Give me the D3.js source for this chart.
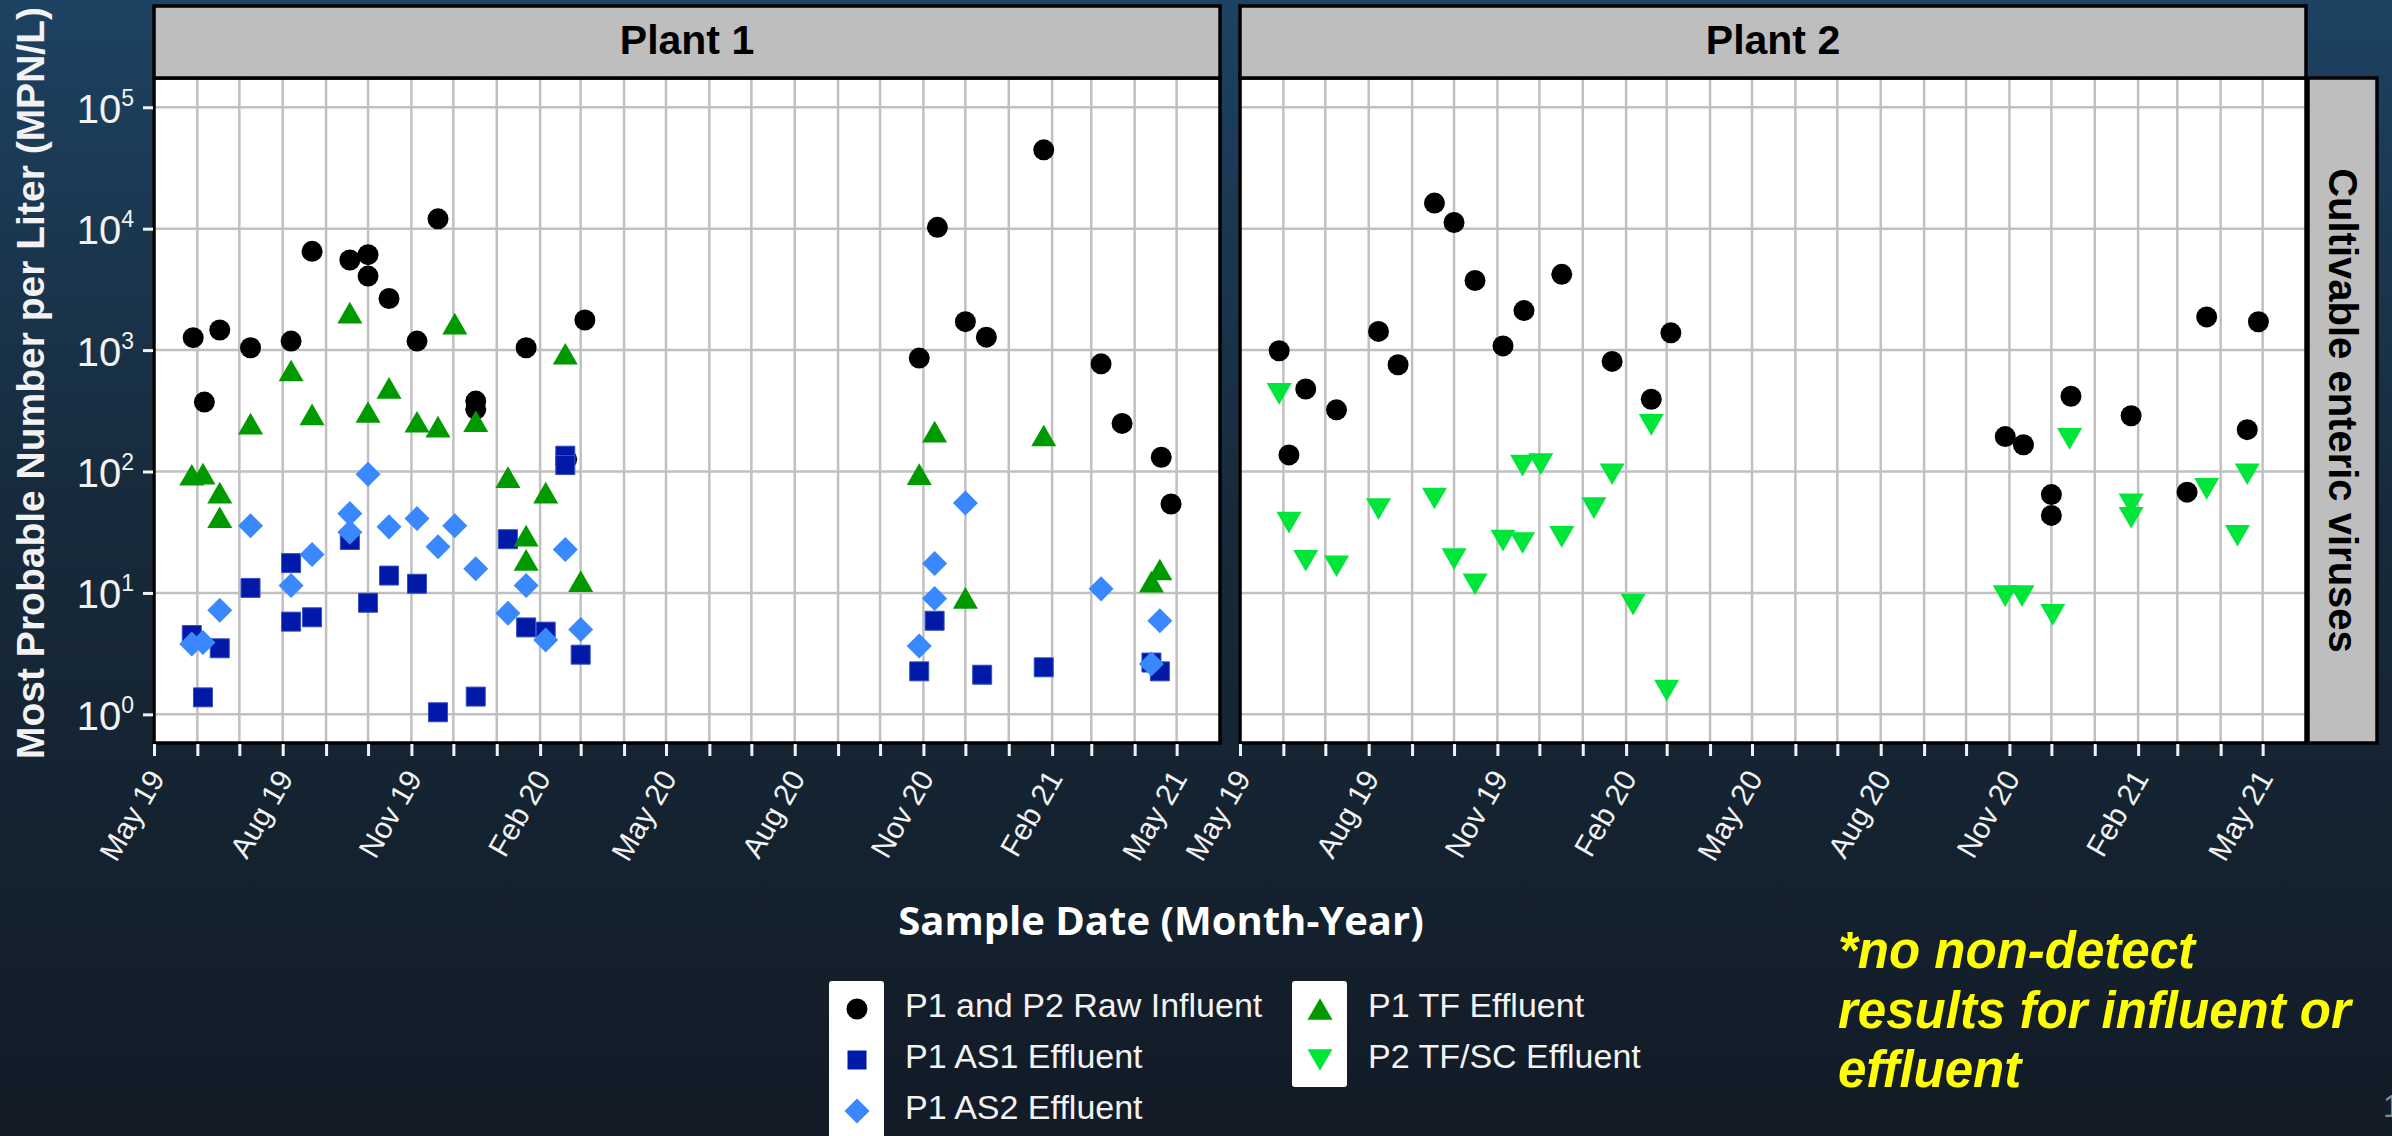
<!DOCTYPE html>
<html>
<head>
<meta charset="utf-8">
<script src="https://cdn.jsdelivr.net/npm/d3@7"></script>
<style>
  html, body { margin: 0; padding: 0; background: #131e2a; }
  svg { display: block; }
</style>
</head>
<body>
<div class="chart"></div>
<script>
// data: [sample date, MPN/L]
var p1Influent = [
  ["2019-05-29", 1265], ["2019-06-06", 373], ["2019-06-17", 1465], ["2019-07-09", 1045],
  ["2019-08-07", 1186], ["2019-08-22", 6510], ["2019-09-18", 5520], ["2019-10-01", 6110],
  ["2019-10-01", 4070], ["2019-10-16", 2660], ["2019-11-05", 1186], ["2019-11-20", 12060],
  ["2019-12-17", 380], ["2019-12-17", 325], ["2020-01-22", 1045], ["2020-02-20", 126],
  ["2020-03-04", 1770], ["2020-10-29", 860], ["2020-11-11", 10260], ["2020-12-01", 1714],
  ["2020-12-16", 1277], ["2021-01-26", 44600], ["2021-03-08", 771], ["2021-03-23", 249],
  ["2021-04-20", 131], ["2021-04-27", 54]
];
var p1AS1 = [
  ["2019-05-28", 4.5], ["2019-06-05", 1.38], ["2019-06-17", 3.5], ["2019-07-09", 11.0],
  ["2019-08-07", 17.6], ["2019-08-07", 5.8], ["2019-08-22", 6.3], ["2019-09-18", 27.3],
  ["2019-10-01", 8.3], ["2019-10-16", 13.9], ["2019-11-05", 11.9], ["2019-11-20", 1.04],
  ["2019-12-17", 1.40], ["2020-01-09", 27.7], ["2020-01-22", 5.2], ["2020-02-05", 4.8],
  ["2020-02-19", 135], ["2020-02-19", 113], ["2020-03-01", 3.1], ["2020-10-29", 2.26],
  ["2020-11-09", 5.9], ["2020-12-13", 2.12], ["2021-01-26", 2.44], ["2021-04-13", 2.67],
  ["2021-04-19", 2.26]
];
var p1AS2 = [
  ["2019-05-28", 3.8], ["2019-06-05", 3.9], ["2019-06-17", 7.2], ["2019-07-09", 35.8],
  ["2019-08-07", 11.5], ["2019-08-22", 20.7], ["2019-09-18", 45], ["2019-09-18", 31.6],
  ["2019-10-01", 95], ["2019-10-16", 35], ["2019-11-05", 41], ["2019-11-20", 24],
  ["2019-12-02", 35.8], ["2019-12-17", 15.8], ["2020-01-09", 6.8], ["2020-01-22", 11.5],
  ["2020-02-05", 4.1], ["2020-02-19", 22.8], ["2020-03-01", 5.0], ["2020-10-29", 3.65],
  ["2020-11-09", 17.5], ["2020-11-09", 9.0], ["2020-12-01", 55], ["2021-03-08", 10.8],
  ["2021-04-19", 5.9], ["2021-04-13", 2.6]
];
var p1TF = [
  ["2019-05-28", 94], ["2019-06-05", 96], ["2019-06-17", 67], ["2019-06-17", 42],
  ["2019-07-09", 248], ["2019-08-07", 679], ["2019-08-22", 295], ["2019-09-18", 2037],
  ["2019-10-01", 309], ["2019-10-16", 488], ["2019-11-05", 257], ["2019-11-20", 234],
  ["2019-12-02", 1652], ["2019-12-17", 260], ["2020-01-09", 90], ["2020-01-22", 29.6],
  ["2020-01-22", 18.7], ["2020-02-05", 67], ["2020-02-19", 933], ["2020-03-01", 12.5],
  ["2020-10-29", 95], ["2020-11-09", 213], ["2020-12-01", 9.1], ["2021-01-26", 198],
  ["2021-04-19", 15.6], ["2021-04-13", 12.4]
];
var p2Influent = [
  ["2019-05-29", 987], ["2019-06-05", 137], ["2019-06-17", 478], ["2019-07-09", 322],
  ["2019-08-08", 1426], ["2019-08-22", 757], ["2019-09-17", 16250], ["2019-10-01", 11250],
  ["2019-10-16", 3740], ["2019-11-05", 1082], ["2019-11-20", 2115], ["2019-12-17", 4210],
  ["2020-01-22", 807], ["2020-02-19", 394], ["2020-03-04", 1387], ["2020-10-29", 194],
  ["2020-11-11", 166], ["2020-12-01", 64.6], ["2020-12-01", 43.5], ["2020-12-15", 417],
  ["2021-01-27", 288], ["2021-03-08", 67.6], ["2021-03-22", 1877], ["2021-04-20", 221],
  ["2021-04-28", 1713]
];
var p2TFSC = [
  ["2019-05-29", 436], ["2019-06-05", 37.9], ["2019-06-17", 18.4], ["2019-07-09", 16.6],
  ["2019-08-08", 49], ["2019-09-17", 60], ["2019-10-01", 19], ["2019-10-16", 11.8],
  ["2019-11-05", 27], ["2019-11-19", 25.8], ["2019-11-19", 112], ["2019-12-02", 115],
  ["2019-12-17", 29], ["2020-01-09", 50], ["2020-01-22", 95], ["2020-02-06", 8.0],
  ["2020-02-19", 242], ["2020-03-01", 1.57], ["2020-10-29", 9.4], ["2020-11-10", 9.4],
  ["2020-12-02", 6.6], ["2020-12-14", 186], ["2021-01-27", 53.8], ["2021-01-27", 41.6],
  ["2021-03-22", 72], ["2021-04-13", 29.6], ["2021-04-20", 95]
];

var panelNames = ["Plant 1", "Plant 2"];
var seriesNames = ["P1 and P2 Raw Influent", "P1 AS1 Effluent", "P1 AS2 Effluent", "P1 TF Effluent", "P2 TF/SC Effluent"];
var yTicks = [1, 10, 100, 1000, 10000, 100000];
var labelMonths = [4, 7, 10, 1]; // May, Aug, Nov, Feb

var W = 2392, H = 1136;
var panelW = 1066, plotTop = 78, plotBottom = 743, stripTop = 6;
var panelX = [154, 1240];

var parseDate = d3.timeParse("%Y-%m-%d");
var fmt = d3.timeFormat("%b %y");

// marker styles per series
var style = {
  "P1 and P2 Raw Influent": { type: d3.symbolCircle, size: 346, fill: "#000000", rot: 0, dy: 0 },
  "P1 AS1 Effluent": { type: d3.symbolSquare, size: 361, fill: "#0019a8", rot: 0, dy: 0 },
  "P1 AS2 Effluent": { type: d3.symbolSquare, size: 313, fill: "#3a88fe", rot: 45, dy: 0 },
  "P1 TF Effluent": { type: d3.symbolTriangle, size: 271, fill: "#009a00", rot: 0, dy: 3.6 },
  "P2 TF/SC Effluent": { type: d3.symbolTriangle, size: 271, fill: "#00e53a", rot: 180, dy: -3.6 }
};

var panels = [
  { name: panelNames[0], x0: panelX[0], series: [
      { name: seriesNames[0], values: p1Influent },
      { name: seriesNames[1], values: p1AS1 },
      { name: seriesNames[2], values: p1AS2 },
      { name: seriesNames[3], values: p1TF }] },
  { name: panelNames[1], x0: panelX[1], series: [
      { name: seriesNames[0], values: p2Influent },
      { name: seriesNames[4], values: p2TFSC }] }
];

var x = d3.scaleTime()
          .domain([new Date(2019, 4, 1), new Date(2021, 5, 1)])
          .range([0, panelW]);

var y = d3.scaleLog()
          .domain([Math.pow(10, -0.236), Math.pow(10, 5.241)])
          .range([plotBottom, plotTop]);

var months = d3.timeMonth.range(x.domain()[0], x.domain()[1]);

var svg = d3.select(".chart").append("svg")
            .attr("width", W)
            .attr("height", H);

var grad = svg.append("defs").append("linearGradient")
              .attr("id", "bg").attr("x1", 0).attr("y1", 0).attr("x2", 0).attr("y2", 1);
grad.append("stop").attr("offset", "0%").attr("stop-color", "#1d4262");
grad.append("stop").attr("offset", "45%").attr("stop-color", "#172a3b");
grad.append("stop").attr("offset", "100%").attr("stop-color", "#121b26");

svg.append("rect").attr("width", W).attr("height", H).attr("fill", "url(#bg)");

function symbolPath(name) {
  var s = style[name];
  return d3.symbol().type(s.type).size(s.size)();
}

panels.forEach(function(p) {
  var g = svg.append("g").attr("transform", "translate(" + p.x0 + ",0)");

  g.append("rect")
   .attr("x", 0).attr("y", plotTop)
   .attr("width", panelW).attr("height", plotBottom - plotTop)
   .attr("fill", "#ffffff");

  // grid
  g.selectAll(".vgrid").data(months).enter().append("line")
   .attr("class", "vgrid")
   .attr("x1", function(d) { return x(d); }).attr("x2", function(d) { return x(d); })
   .attr("y1", plotTop).attr("y2", plotBottom)
   .attr("stroke", "#c0c0c0").attr("stroke-width", 2.5);

  g.selectAll(".hgrid").data(yTicks).enter().append("line")
   .attr("class", "hgrid")
   .attr("x1", 0).attr("x2", panelW)
   .attr("y1", function(d) { return y(d); }).attr("y2", function(d) { return y(d); })
   .attr("stroke", "#c0c0c0").attr("stroke-width", 2.5);

  // points
  p.series.forEach(function(s) {
    var st = style[s.name];
    g.selectAll(null).data(s.values).enter().append("path")
     .attr("d", symbolPath(s.name))
     .attr("fill", st.fill)
     .attr("stroke", s.name === seriesNames[1] ? "#3550c0" : "none")
     .attr("stroke-width", 1)
     .attr("transform", function(d) {
        return "translate(" + x(parseDate(d[0])) + "," + (y(d[1]) + st.dy) + ") rotate(" + st.rot + ")";
     });
  });

  // panel border
  g.append("rect")
   .attr("x", 0).attr("y", plotTop)
   .attr("width", panelW).attr("height", plotBottom - plotTop)
   .attr("fill", "none").attr("stroke", "#000").attr("stroke-width", 3.5);

  // strip
  g.append("rect")
   .attr("x", 0).attr("y", stripTop)
   .attr("width", panelW).attr("height", plotTop - stripTop)
   .attr("fill", "#bebebe").attr("stroke", "#000").attr("stroke-width", 3.5);

  g.append("text")
   .attr("x", panelW / 2).attr("y", 54)
   .attr("text-anchor", "middle")
   .attr("font-family", "Liberation Sans, Arial, sans-serif")
   .attr("font-weight", "bold").attr("font-size", 41)
   .attr("fill", "#000")
   .text(p.name);

  // x axis
  var xAxis = d3.axisBottom(x)
                .tickValues(months)
                .tickSizeInner(12).tickSizeOuter(0)
                .tickFormat(function(d) {
                   return labelMonths.indexOf(d.getMonth()) >= 0 ? fmt(d) : "";
                });

  var ax = g.append("g")
            .attr("transform", "translate(0," + (plotBottom + 1) + ")")
            .call(xAxis);
  ax.select(".domain").remove();
  ax.selectAll(".tick line").attr("stroke", "#f2f2f2").attr("stroke-width", 3);
  ax.selectAll(".tick text")
    .attr("fill", "#f2f2f2")
    .attr("font-family", "Liberation Sans, Arial, sans-serif")
    .attr("font-size", 30)
    .attr("text-anchor", "end")
    .attr("x", 0).attr("y", 0).attr("dy", null)
    .attr("transform", "translate(11,34) rotate(-60)");
});

// y axis (left of Plant 1)
var yAxis = d3.axisLeft(y)
              .tickValues(yTicks)
              .tickSizeInner(10).tickSizeOuter(0)
              .tickFormat(function() { return "10"; });

var ay = svg.append("g")
            .attr("transform", "translate(" + (panelX[0] - 1) + ",0)")
            .call(yAxis);
ay.select(".domain").remove();
ay.selectAll(".tick line").attr("stroke", "#f2f2f2").attr("stroke-width", 3);
ay.selectAll(".tick text")
  .attr("fill", "#f2f2f2")
  .attr("font-family", "Liberation Sans, Arial, sans-serif")
  .attr("font-size", 40)
  .attr("x", -19).attr("dy", null).attr("y", 15)
  .each(function(d) {
     d3.select(this).append("tspan")
       .attr("dy", -17).attr("font-size", 23)
       .text(Math.round(Math.log10(d)));
  });

svg.append("text")
   .attr("transform", "translate(44,383) rotate(-90)")
   .attr("text-anchor", "middle")
   .attr("font-family", "Liberation Sans, Arial, sans-serif")
   .attr("font-weight", "bold").attr("font-size", 39)
   .attr("fill", "#f2f2f2")
   .text("Most Probable Number per Liter (MPN/L)");

// right strip
svg.append("rect")
   .attr("x", 2308).attr("y", plotTop)
   .attr("width", 69).attr("height", plotBottom - plotTop)
   .attr("fill", "#bebebe").attr("stroke", "#000").attr("stroke-width", 3.5);

svg.append("text")
   .attr("transform", "translate(2329," + ((plotTop + plotBottom) / 2) + ") rotate(90)")
   .attr("text-anchor", "middle")
   .attr("font-family", "Liberation Sans, Arial, sans-serif")
   .attr("font-weight", "bold").attr("font-size", 40)
   .attr("fill", "#000")
   .text("Cultivable enteric viruses");

// x title
svg.append("text")
   .attr("x", 1161).attr("y", 935)
   .attr("text-anchor", "middle")
   .attr("font-family", "Open Sans, sans-serif")
   .attr("font-weight", "bold").attr("font-size", 40)
   .attr("fill", "#ffffff")
   .text("Sample Date (Month-Year)");

// legend
var legendCols = [
  { x: 829, keys: [seriesNames[0], seriesNames[1], seriesNames[2]], h: 160 },
  { x: 1292, keys: [seriesNames[3], seriesNames[4]], h: 106 }
];
var rowY = [1009, 1060, 1111];

legendCols.forEach(function(c) {
  svg.append("rect")
     .attr("x", c.x).attr("y", 981)
     .attr("width", 55).attr("height", c.h)
     .attr("rx", 3)
     .attr("fill", "#ffffff");
  c.keys.forEach(function(k, i) {
    var st = style[k];
    svg.append("path")
       .attr("d", symbolPath(k))
       .attr("fill", st.fill)
       .attr("transform", "translate(" + (c.x + 28) + "," + (rowY[i] + st.dy) + ") rotate(" + st.rot + ")");
    svg.append("text")
       .attr("x", c.x + 76).attr("y", rowY[i] + 8)
       .attr("font-family", "Liberation Sans, Arial, sans-serif")
       .attr("font-size", 34)
       .attr("fill", "#f2f2f2")
       .text(k);
  });
});

// note
var noteLines = ["*no non-detect", "results for influent or", "effluent"];
svg.append("g").selectAll("text").data(noteLines).enter().append("text")
   .attr("x", 1838)
   .attr("y", function(d, i) { return 968 + i * 59.5; })
   .attr("font-family", "Liberation Sans, Arial, sans-serif")
   .attr("font-weight", "bold").attr("font-style", "italic")
   .attr("font-size", 51)
   .attr("fill", "#ffff00")
   .text(function(d) { return d; });

// slide number, clipped by the page edge as in the source
svg.append("text")
   .attr("x", 2383).attr("y", 1117)
   .attr("font-family", "Liberation Sans, Arial, sans-serif")
   .attr("font-size", 32)
   .attr("fill", "#8c8c8c")
   .text("1");
</script>
</body>
</html>
